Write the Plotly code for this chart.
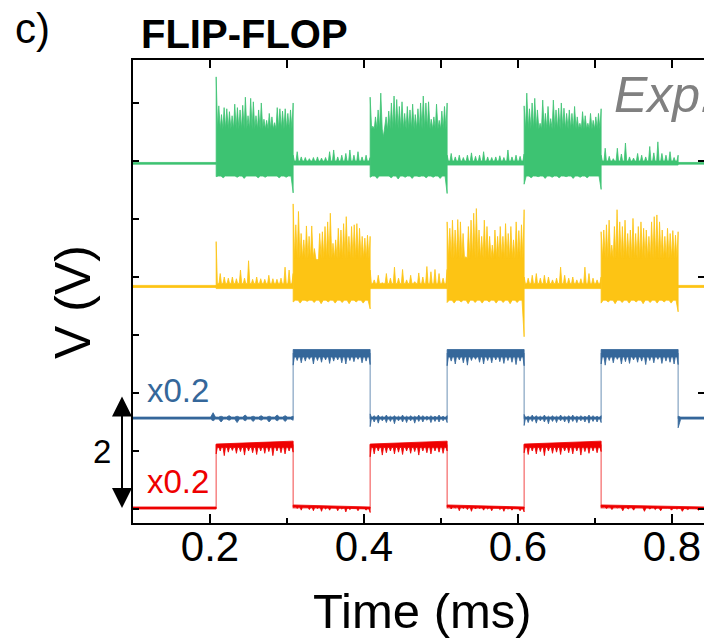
import plotly.graph_objects as go

# ---- time base (ms) -------------------------------------------------------
T_MIN, T_MAX = 0.1, 0.8416
EDGES = [0.208, 0.308, 0.408, 0.508, 0.608, 0.708, 0.808]

# ---- colours --------------------------------------------------------------
GREEN = "#3DC372"
YELLOW = "#FDC414"
BLUE = "#35679A"
RED = "#EE0000"
FONT = "Liberation Sans, Arial, sans-serif"

# ---- green trace (offset stack, V) ----------------------------------------
green_idle = (5.945, 5.975)        # bottom / top of the quiet line
green_burst_floor = 5.74
green_burst_core = 6.55
green_burst_peaks = [
    [7.45, 6.95, 6.80, 6.92, 6.90, 6.85, 6.78, 6.98, 6.92, 6.88, 6.96, 7.10, 6.78, 7.08, 7.02,
     6.78, 6.88, 7.00, 6.72, 6.70, 6.82, 6.76, 6.66, 6.92, 6.90, 6.86, 6.90, 6.82, 6.88, 7.00],
    [7.10, 6.60, 6.76, 6.88, 7.17, 6.42, 6.76, 6.86, 7.00, 7.12, 7.06, 6.94, 7.02, 6.82, 6.94,
     6.88, 6.98, 6.80, 6.90, 7.00, 7.12, 7.00, 7.02, 6.72, 6.76, 6.98, 6.70, 6.86, 6.94, 7.00],
    [6.95, 7.17, 6.90, 7.00, 7.08, 6.88, 6.65, 7.05, 6.82, 6.94, 6.73, 7.05, 6.88, 6.91, 7.00,
     6.91, 6.82, 6.88, 6.82, 6.94, 6.76, 6.65, 6.85, 6.78, 6.65, 6.82, 6.70, 6.76, 6.82, 6.90],
]
green_burst_dips = [
    [5.73, 5.71, 5.74, 5.72, 5.70, 5.73, 5.71, 5.72, 5.74, 5.71, 5.72, 5.45],
    [5.72, 5.70, 5.73, 5.71, 5.69, 5.72, 5.70, 5.73, 5.71, 5.72, 5.70, 5.44],
    [5.60, 5.71, 5.73, 5.70, 5.72, 5.71, 5.73, 5.70, 5.72, 5.71, 5.73, 5.51],
]
green_gap_peaks = [
    [6.10, 6.16, 6.07, 6.06, 6.04, 6.06, 6.07, 6.05, 6.06, 6.16,
     6.19, 6.07, 6.10, 6.13, 6.19, 6.10, 6.16, 6.07, 6.10, 6.06],
    [6.10, 6.13, 6.07, 6.10, 6.06, 6.10, 6.14, 6.08, 6.10, 6.16,
     6.07, 6.06, 6.07, 6.09, 6.06, 6.19, 6.07, 6.10, 6.08, 6.12],
    [6.10, 6.22, 6.08, 6.04, 6.22, 6.12, 6.31, 6.07, 6.05, 6.13,
     6.10, 6.07, 6.25, 6.14, 6.33, 6.13, 6.10, 6.16, 6.06, 6.10],
]
green_gap_band = (5.93, 6.00)

# ---- yellow trace ---------------------------------------------------------
yellow_idle = (3.82, 3.855)
yellow_burst_floor = 3.60
yellow_burst_core = 4.32
yellow_burst_peaks = [
    [5.26, 4.90, 5.13, 4.75, 4.64, 4.88, 4.70, 4.88, 4.49, 4.29, 4.75, 4.78, 4.87, 4.95, 5.10,
     4.58, 4.64, 4.84, 4.81, 4.92, 5.04, 4.70, 4.87, 4.90, 4.92, 4.84, 4.70, 4.67, 4.72, 4.70],
    [4.95, 4.84, 4.98, 4.81, 4.99, 4.95, 4.75, 4.35, 4.87, 4.98, 5.10, 5.18, 4.81, 4.70, 4.98,
     4.87, 4.70, 4.55, 4.81, 4.70, 4.87, 4.70, 4.92, 4.75, 4.87, 4.64, 4.95, 4.80, 4.90, 5.16],
    [4.78, 4.81, 4.90, 4.98, 4.55, 4.87, 5.16, 4.95, 4.87, 4.98, 4.75, 4.81, 5.01, 4.75, 4.87,
     4.95, 4.84, 4.81, 4.70, 4.95, 5.04, 5.07, 4.95, 4.81, 4.70, 4.84, 4.75, 4.80, 4.72, 4.78],
]
yellow_burst_dips = [
    [3.57, 3.55, 3.58, 3.56, 3.54, 3.57, 3.55, 3.56, 3.54, 3.57, 3.55, 3.45],
    [3.56, 3.55, 3.57, 3.54, 3.56, 3.55, 3.57, 3.55, 3.56, 3.54, 3.56, 2.97],
    [3.55, 3.57, 3.54, 3.56, 3.55, 3.57, 3.54, 3.56, 3.55, 3.57, 3.55, 3.40],
]
yellow_gap_peaks = [
    [4.61, 4.06, 4.00, 3.98, 4.00, 3.97, 4.12, 3.98, 4.28, 3.96,
     4.00, 3.97, 3.96, 4.03, 3.97, 3.96, 3.98, 4.17, 4.12, 4.06],
    [4.12, 3.95, 4.03, 3.90, 4.06, 3.98, 4.17, 3.98, 4.13, 3.95,
     4.03, 3.92, 4.07, 4.00, 4.18, 4.09, 4.13, 4.06, 3.98, 4.13],
    [4.00, 3.98, 4.03, 4.06, 3.98, 4.03, 4.00, 3.95, 3.98, 4.17,
     4.03, 3.98, 4.00, 3.95, 3.97, 4.17, 4.06, 3.98, 3.95, 4.00],
]
yellow_gap_band = (3.80, 3.89)

# ---- blue trace (x0.2) ----------------------------------------------------
blue_low = (1.55, 1.585)
blue_high = (2.62, 2.75)
blue_low_peaks = [
    [1.585, 1.585, 1.585, 1.585, 1.585, 1.585, 1.585, 1.585, 1.585, 1.585, 1.66,
     1.60, 1.61, 1.60, 1.62, 1.60, 1.61, 1.60, 1.62, 1.61, 1.60],
    [1.64, 1.61, 1.62, 1.60, 1.62, 1.60, 1.61, 1.60, 1.62, 1.60,
     1.61, 1.60, 1.62, 1.61, 1.60, 1.61, 1.60, 1.62, 1.60, 1.61],
    [1.63, 1.60, 1.62, 1.61, 1.60, 1.62, 1.60, 1.61, 1.60, 1.62,
     1.60, 1.61, 1.62, 1.60, 1.61, 1.60, 1.62, 1.61, 1.60, 1.61],
    [1.60, 1.585, 1.585, 1.585],
]
blue_low_dips = [
    [1.55, 1.55, 1.55, 1.55, 1.55, 1.55, 1.55, 1.55, 1.55, 1.55, 1.52,
     1.50, 1.53, 1.49, 1.52, 1.51, 1.53, 1.50, 1.52, 1.51, 1.53],
    [1.42, 1.50, 1.48, 1.52, 1.49, 1.51, 1.47, 1.52, 1.50, 1.49,
     1.52, 1.48, 1.51, 1.50, 1.53, 1.49, 1.51, 1.50, 1.52, 1.49],
    [1.44, 1.49, 1.51, 1.48, 1.52, 1.50, 1.47, 1.51, 1.49, 1.52,
     1.50, 1.48, 1.51, 1.49, 1.52, 1.50, 1.48, 1.51, 1.50, 1.49],
    [1.40, 1.55, 1.55, 1.55],
]
blue_high_dips = [
    [2.48, 2.56, 2.52, 2.55, 2.58, 2.50, 2.56, 2.53, 2.57, 2.51,
     2.55, 2.57, 2.52, 2.50, 2.56, 2.54, 2.58, 2.52, 2.55, 2.49],
    [2.47, 2.55, 2.50, 2.57, 2.52, 2.48, 2.56, 2.58, 2.53, 2.50,
     2.56, 2.52, 2.57, 2.54, 2.51, 2.56, 2.53, 2.49, 2.55, 2.47],
    [2.50, 2.48, 2.56, 2.52, 2.58, 2.50, 2.54, 2.51, 2.57, 2.53,
     2.55, 2.49, 2.56, 2.52, 2.58, 2.51, 2.55, 2.53, 2.50, 2.49],
]

# ---- red trace (x0.2) -----------------------------------------------------
red_idle = (0.0, 0.035)
red_high_top = (1.12, 1.17)
red_high_core = 1.06
red_low_top = (0.07, 0.035)
red_low_core = (0.035, 0.0)
red_high_dips = [
    [0.95, 1.00, 0.92, 0.98, 1.01, 0.96, 0.99, 0.93, 1.00, 0.97,
     0.94, 1.00, 0.96, 0.99, 0.92, 1.00, 0.97, 0.95, 1.00, 0.98],
    [0.90, 0.95, 1.00, 0.93, 0.97, 1.00, 0.95, 0.98, 0.94, 1.00,
     0.96, 0.99, 0.93, 1.00, 0.97, 0.95, 1.00, 0.98, 0.96, 1.00],
    [0.97, 0.94, 1.00, 0.95, 0.99, 0.92, 1.00, 0.96, 0.98, 0.94,
     1.00, 0.97, 0.95, 1.00, 0.93, 0.99, 0.96, 1.00, 0.97, 0.99],
]
red_low_dips = [
    [0.03, 0.01, -0.02, 0.02, -0.01, -0.03, 0.01, -0.04, 0.00, -0.02,
     0.01, -0.03, 0.00, -0.05, -0.01, 0.01, -0.03, 0.00, -0.02, -0.06],
    [0.03, 0.00, 0.02, -0.03, 0.01, -0.01, -0.04, 0.00, 0.01, -0.02,
     0.00, -0.03, 0.01, -0.01, -0.04, 0.00, -0.02, 0.01, -0.03, -0.05],
    [0.03, 0.01, -0.01, 0.02, -0.03, 0.00, -0.02, 0.01, -0.04, 0.00,
     -0.01, -0.03, 0.01, -0.02, 0.00, -0.04, -0.01, 0.01, -0.02, 0.00],
]

# ---- axis ranges (V offset stack) -----------------------------------------
Y_RANGE = [-0.241, 7.741]


def spiky(t0, t1, base, vals, frac=0.3):
    """Edge polyline: narrow spikes to each value, resting on a base level."""
    b0, b1 = base if isinstance(base, (tuple, list)) else (base, base)

    def lvl(x):
        return b0 + (b1 - b0) * (x - t0) / (t1 - t0)

    if not vals:
        return [t0, t1], [b0, b1]
    n = len(vals)
    dt = (t1 - t0) / (n - 1)
    w = frac * dt
    xs, ys = [], []
    for i, v in enumerate(vals):
        xi = t0 + i * dt
        if i > 0:
            xs.append(xi - w)
            ys.append(lvl(xi - w))
        xs.append(xi)
        ys.append(v)
        if i < n - 1:
            xs.append(xi + w)
            ys.append(lvl(xi + w))
    return xs, ys


def band(t0, t1, top_base, top_vals, bot_base, bot_vals, frac):
    tx, ty = spiky(t0, t1, top_base, top_vals, frac)
    bx, by = spiky(t0, t1, bot_base, bot_vals, 0.3)
    return tx + bx[::-1] + [tx[0]], ty + by[::-1] + [ty[0]]


fig = go.Figure()


def add_band(color, t0, t1, top_base, top_vals, bot_base, bot_vals, frac=0.3):
    x, y = band(t0, t1, top_base, top_vals, bot_base, bot_vals, frac)
    fig.add_trace(go.Scatter(x=x, y=y, mode="lines", fill="toself", fillcolor=color,
                             line=dict(color=color, width=0.8), hoverinfo="skip",
                             showlegend=False))


E = EDGES

# green: quiet, then bursts alternating with gaps
add_band(GREEN, T_MIN, E[0], green_idle[1], [], green_idle[0], [])
for k, (a, b) in enumerate([(E[0], E[1]), (E[2], E[3]), (E[4], E[5])]):
    add_band(GREEN, a, b, green_burst_core, green_burst_peaks[k],
             green_burst_floor, green_burst_dips[k], frac=0.45)
for k, (a, b) in enumerate([(E[1], E[2]), (E[3], E[4]), (E[5], E[6])]):
    add_band(GREEN, a, b, green_gap_band[1], green_gap_peaks[k], green_gap_band[0], [])
add_band(GREEN, E[6], T_MAX, green_idle[1], [], green_idle[0], [])

# yellow: quiet, gap, then bursts alternating with gaps
add_band(YELLOW, T_MIN, E[0], yellow_idle[1], [], yellow_idle[0], [])
for k, (a, b) in enumerate([(E[0], E[1]), (E[2], E[3]), (E[4], E[5])]):
    add_band(YELLOW, a, b, yellow_gap_band[1], yellow_gap_peaks[k], yellow_gap_band[0], [])
for k, (a, b) in enumerate([(E[1], E[2]), (E[3], E[4]), (E[5], E[6])]):
    add_band(YELLOW, a, b, yellow_burst_core, yellow_burst_peaks[k],
             yellow_burst_floor, yellow_burst_dips[k], frac=0.45)
add_band(YELLOW, E[6], T_MAX, yellow_idle[1], [], yellow_idle[0], [])

# blue square wave
blue_lows = [(T_MIN, E[1]), (E[2], E[3]), (E[4], E[5]), (E[6], T_MAX)]
blue_highs = [(E[1], E[2]), (E[3], E[4]), (E[5], E[6])]
for k, (a, b) in enumerate(blue_lows):
    add_band(BLUE, a, b, blue_low[1], blue_low_peaks[k], blue_low[0], blue_low_dips[k])
for k, (a, b) in enumerate(blue_highs):
    add_band(BLUE, a, b, blue_high[1], [], blue_high[0], blue_high_dips[k])

# red square wave
add_band(RED, T_MIN, E[0], red_idle[1], [], red_idle[0], [])
red_highs = [(E[0], E[1]), (E[2], E[3]), (E[4], E[5])]
red_lows = [(E[1], E[2]), (E[3], E[4]), (E[5], T_MAX)]
for k, (a, b) in enumerate(red_highs):
    add_band(RED, a, b, red_high_top, [], red_high_core, red_high_dips[k])
for k, (a, b) in enumerate(red_lows):
    add_band(RED, a, b, red_low_top, [], red_low_core, red_low_dips[k])


# thin switching edges of the square waves
def step_line(color, t_edges, lo, hi, start_high):
    xs, ys = [T_MIN], [hi if start_high else lo]
    state = start_high
    for t in t_edges:
        xs += [t, t]
        ys += [hi if state else lo, lo if state else hi]
        state = not state
    xs.append(T_MAX)
    ys.append(hi if state else lo)
    fig.add_trace(go.Scatter(x=xs, y=ys, mode="lines", line=dict(color=color, width=1.2),
                             opacity=0.6, hoverinfo="skip", showlegend=False))


step_line(BLUE, E[1:], 1.565, 2.68, False)
step_line(RED, E[:6], 0.02, 1.10, False)

# invisible anchor for the overlaid top / right axes
fig.add_trace(go.Scatter(x=[T_MIN], y=[Y_RANGE[0]], xaxis="x2", yaxis="y2", mode="markers",
                         marker=dict(opacity=0), hoverinfo="skip", showlegend=False))

W, H = 704, 641
ML, MR, MT, MB = 133, 0, 60, 118
PW, PH = W - ML - MR, H - MT - MB


def px(xpix):
    return (xpix - ML) / PW


def py(ypix):
    return (H - MB - ypix) / PH


def label(text, x, y, size, color="black", xanchor="center", bold=False, italic=False,
          angle=0):
    t = text
    if bold:
        t = "<b>" + t + "</b>"
    if italic:
        t = "<i>" + t + "</i>"
    fig.add_annotation(text=t, x=px(x), y=py(y), xref="paper", yref="paper",
                       xanchor=xanchor, yanchor="middle", showarrow=False,
                       textangle=angle, font=dict(family=FONT, size=size, color=color))


label("c)", 13, 28, 42, xanchor="left")
label("FLIP-FLOP", 139, 34, 40, xanchor="left", bold=True)
label("Exp.", 612, 95, 50, color="#808080", xanchor="left", italic=True)
label("V (V)", 73, 302, 50, angle=-90)
label("Time (ms)", 422, 611, 49)
label("x0.2", 145, 390, 33, color=BLUE, xanchor="left")
label("x0.2", 145, 481, 33, color=RED, xanchor="left")
label("2", 102, 451, 33)

# 2 V scale bar
fig.add_annotation(x=px(122), y=py(508), xref="paper", yref="paper", ax=0, ay=-(508 - 395),
                   text="", showarrow=True, arrowhead=2, arrowside="end+start",
                   arrowsize=2, arrowwidth=2, arrowcolor="black", standoff=0,
                   startstandoff=0)

axis_common = dict(showgrid=False, zeroline=False, linecolor="black", tickcolor="black")

fig.update_layout(
    width=W, height=H,
    margin=dict(l=ML, r=MR, t=MT, b=MB, pad=0),
    paper_bgcolor="white", plot_bgcolor="white",
    font=dict(family=FONT, color="black"),
    xaxis=dict(range=[T_MIN, T_MAX], showline=True, linewidth=2, ticks="inside",
               tick0=0.2, dtick=0.2, ticklen=9, tickwidth=1.5,
               minor=dict(ticks="inside", dtick=0.1, ticklen=5, tickwidth=1.5,
                          tickcolor="black"),
               tickfont=dict(family=FONT, size=42), ticklabelstandoff=-14, **axis_common),
    xaxis2=dict(range=[T_MIN, T_MAX], overlaying="x", side="top", showline=True,
                linewidth=2, ticks="inside", tick0=0.1, dtick=0.1, ticklen=8, tickwidth=1.5,
                showticklabels=False, **axis_common),
    yaxis=dict(range=Y_RANGE, showline=True, linewidth=2, ticks="inside", tick0=0, dtick=1,
               ticklen=6, tickwidth=1.5, showticklabels=False, **axis_common),
    yaxis2=dict(range=Y_RANGE, overlaying="y", side="right", showline=False, ticks="inside",
                tick0=0, dtick=2, ticklen=6, tickwidth=1.5, showticklabels=False,
                **axis_common),
)

fig.write_html("out.html")
